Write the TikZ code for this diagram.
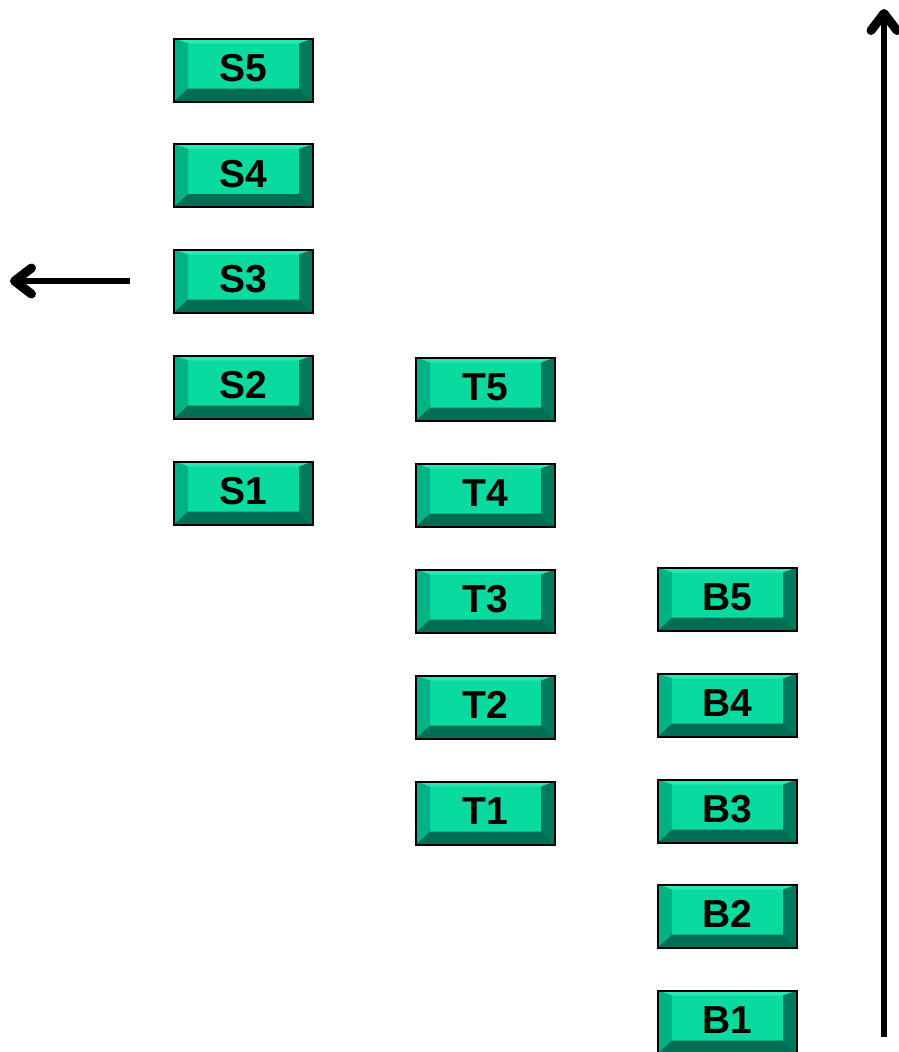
\documentclass[tikz,border=0pt]{standalone}
\usepackage{fontspec}
\setmainfont{Liberation Sans}
\usetikzlibrary{arrows.meta}
\definecolor{bface}{RGB}{8,218,160}
\definecolor{btop}{RGB}{40,232,180}
\definecolor{bleft}{RGB}{0,178,132}
\definecolor{bright}{RGB}{0,122,92}
\definecolor{bbottom}{RGB}{0,110,84}
\tikzset{
  btn/.style={draw=black, line width=2pt, fill=bface, minimum width=139pt, minimum height=63pt,
    inner sep=0pt, font=\bfseries\fontsize{39}{39}\selectfont,
    path picture={
      \coordinate (nw) at (path picture bounding box.north west);
      \coordinate (ne) at (path picture bounding box.north east);
      \coordinate (sw) at (path picture bounding box.south west);
      \coordinate (se) at (path picture bounding box.south east);
      \coordinate (inw) at ([xshift=14pt,yshift=-5pt]nw);
      \coordinate (ine) at ([xshift=-14pt,yshift=-5pt]ne);
      \coordinate (isw) at ([xshift=14pt,yshift=13pt]sw);
      \coordinate (ise) at ([xshift=-14pt,yshift=13pt]se);
      \fill[btop] (nw) -- (ne) -- (ine) -- (inw) -- cycle;
      \fill[bleft] (nw) -- (inw) -- (isw) -- (sw) -- cycle;
      \fill[bright] (ne) -- (ine) -- (ise) -- (se) -- cycle;
      \fill[bbottom] (sw) -- (isw) -- (ise) -- (se) -- cycle;
    }},
  bigarrow/.style={line width=5.5pt, -{Straight Barb[length=17pt,width=26pt,round,line width=9pt]}}
}
\newcommand{\lbl}[1]{\raisebox{4pt}{#1}}
\begin{document}
\begin{tikzpicture}[x=1pt,y=-1pt]
\useasboundingbox (0,0) rectangle (899,1052);
\node[btn] (S5) at (243.5,70) {\lbl{S5}};
\node[btn] (S4) at (243.5,175.5) {\lbl{S4}};
\node[btn] (S3) at (243.5,281) {\lbl{S3}};
\node[btn] (S2) at (243.5,387) {\lbl{S2}};
\node[btn] (S1) at (243.5,493) {\lbl{S1}};
\node[btn] (T5) at (485.5,389) {\lbl{T5}};
\node[btn] (T4) at (485.5,495) {\lbl{T4}};
\node[btn] (T3) at (485.5,601) {\lbl{T3}};
\node[btn] (T2) at (485.5,707) {\lbl{T2}};
\node[btn] (T1) at (485.5,813) {\lbl{T1}};
\node[btn] (B5) at (727.5,599) {\lbl{B5}};
\node[btn] (B4) at (727.5,705) {\lbl{B4}};
\node[btn] (B3) at (727.5,811) {\lbl{B3}};
\node[btn] (B2) at (727.5,916) {\lbl{B2}};
\node[btn] (B1) at (727.5,1022) {\lbl{B1}};
\coordinate (la) at (130,281);
\coordinate (lb) at (10,281);
\draw[bigarrow] (la) -- (lb);
\coordinate (ua) at (884,1037);
\coordinate (ub) at (884,9);
\draw[bigarrow, line width=6pt] (ua) -- (ub);
\end{tikzpicture}
\end{document}
